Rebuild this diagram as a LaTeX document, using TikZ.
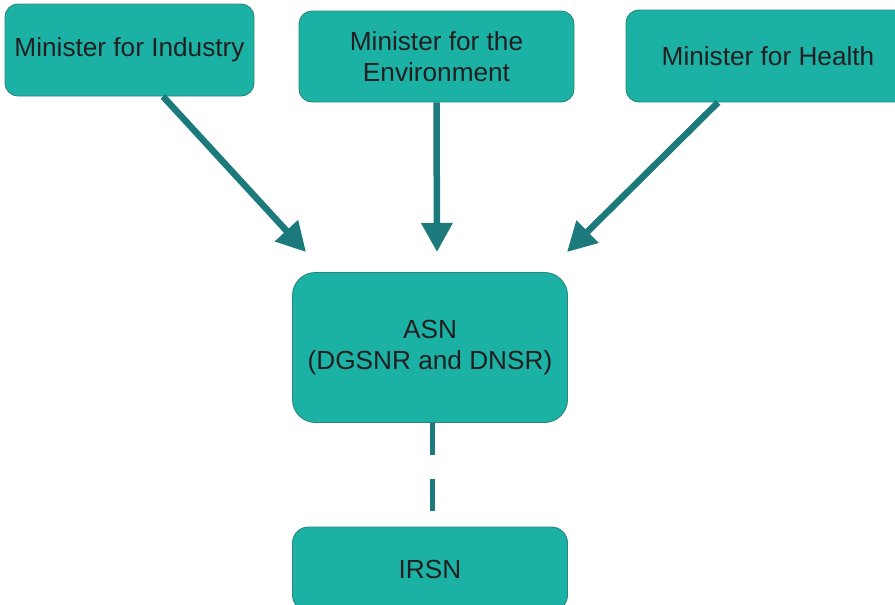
\documentclass[tikz,border=0pt]{standalone}
\usepackage{fontspec}
\setmainfont{Liberation Sans}
\usepackage{tikz}
\usetikzlibrary{arrows.meta}
\usetikzlibrary{positioning}
\definecolor{boxfill}{HTML}{1BB2A5}
\definecolor{boxline}{HTML}{2A8580}
\definecolor{arrowcol}{HTML}{1C7A7C}
\definecolor{textcol}{HTML}{231F20}
\tikzset{
    body/.style = {draw=boxline,fill=boxfill,line width=0.9pt,rounded corners=13pt,
        inner sep=0,align=center,text=textcol,
        font=\fontsize{26.2}{31}\selectfont},
    report/.style = {-{Triangle[length=29pt,width=30pt]},draw=arrowcol,line width=6.5pt},
    link/.style = {draw=arrowcol,line width=5pt,dash pattern=on 32pt off 24pt}
}

\begin{document}
\begin{tikzpicture}[x=1pt,y=-1pt]
        \clip (0,0) rectangle (895,605);
        % Ministers
        \node[body,minimum width=249pt,minimum height=92pt] (ind) at (129.5,50) {Minister for Industry};
        \node[body,minimum width=275pt,minimum height=91pt] (env) at (436.5,56.5) {Minister for the\\Environment};
        \node[body,minimum width=284pt,minimum height=92pt] (hea) at (768,56) {Minister for Health};
        % Authority and support
        \node[body,rounded corners=23pt,minimum width=275pt,minimum height=150pt] (asn) at (430,347.5) {ASN\\(DGSNR and DNSR)};
        \node[body,rounded corners=16pt,minimum width=275pt,minimum height=84pt] (irsn) at (430,569) {IRSN};
        % Arrow tips
        \coordinate (tipI) at (306,252);
        \coordinate (tipE) at (437,252);
        \coordinate (tipH) at (567,252);
        % Supervision
        \draw[report] ([xshift=33.5pt]ind.south) to (tipI);
        \draw[report] (env.south) to (tipE);
        \draw[report] ([xshift=-50pt]hea.south) to (tipH);
        % technical support
        \draw[link,shorten >=16pt] ([xshift=2.5pt]asn.south) to ([xshift=2.5pt]irsn.north);
    \end{tikzpicture}
\end{document}
